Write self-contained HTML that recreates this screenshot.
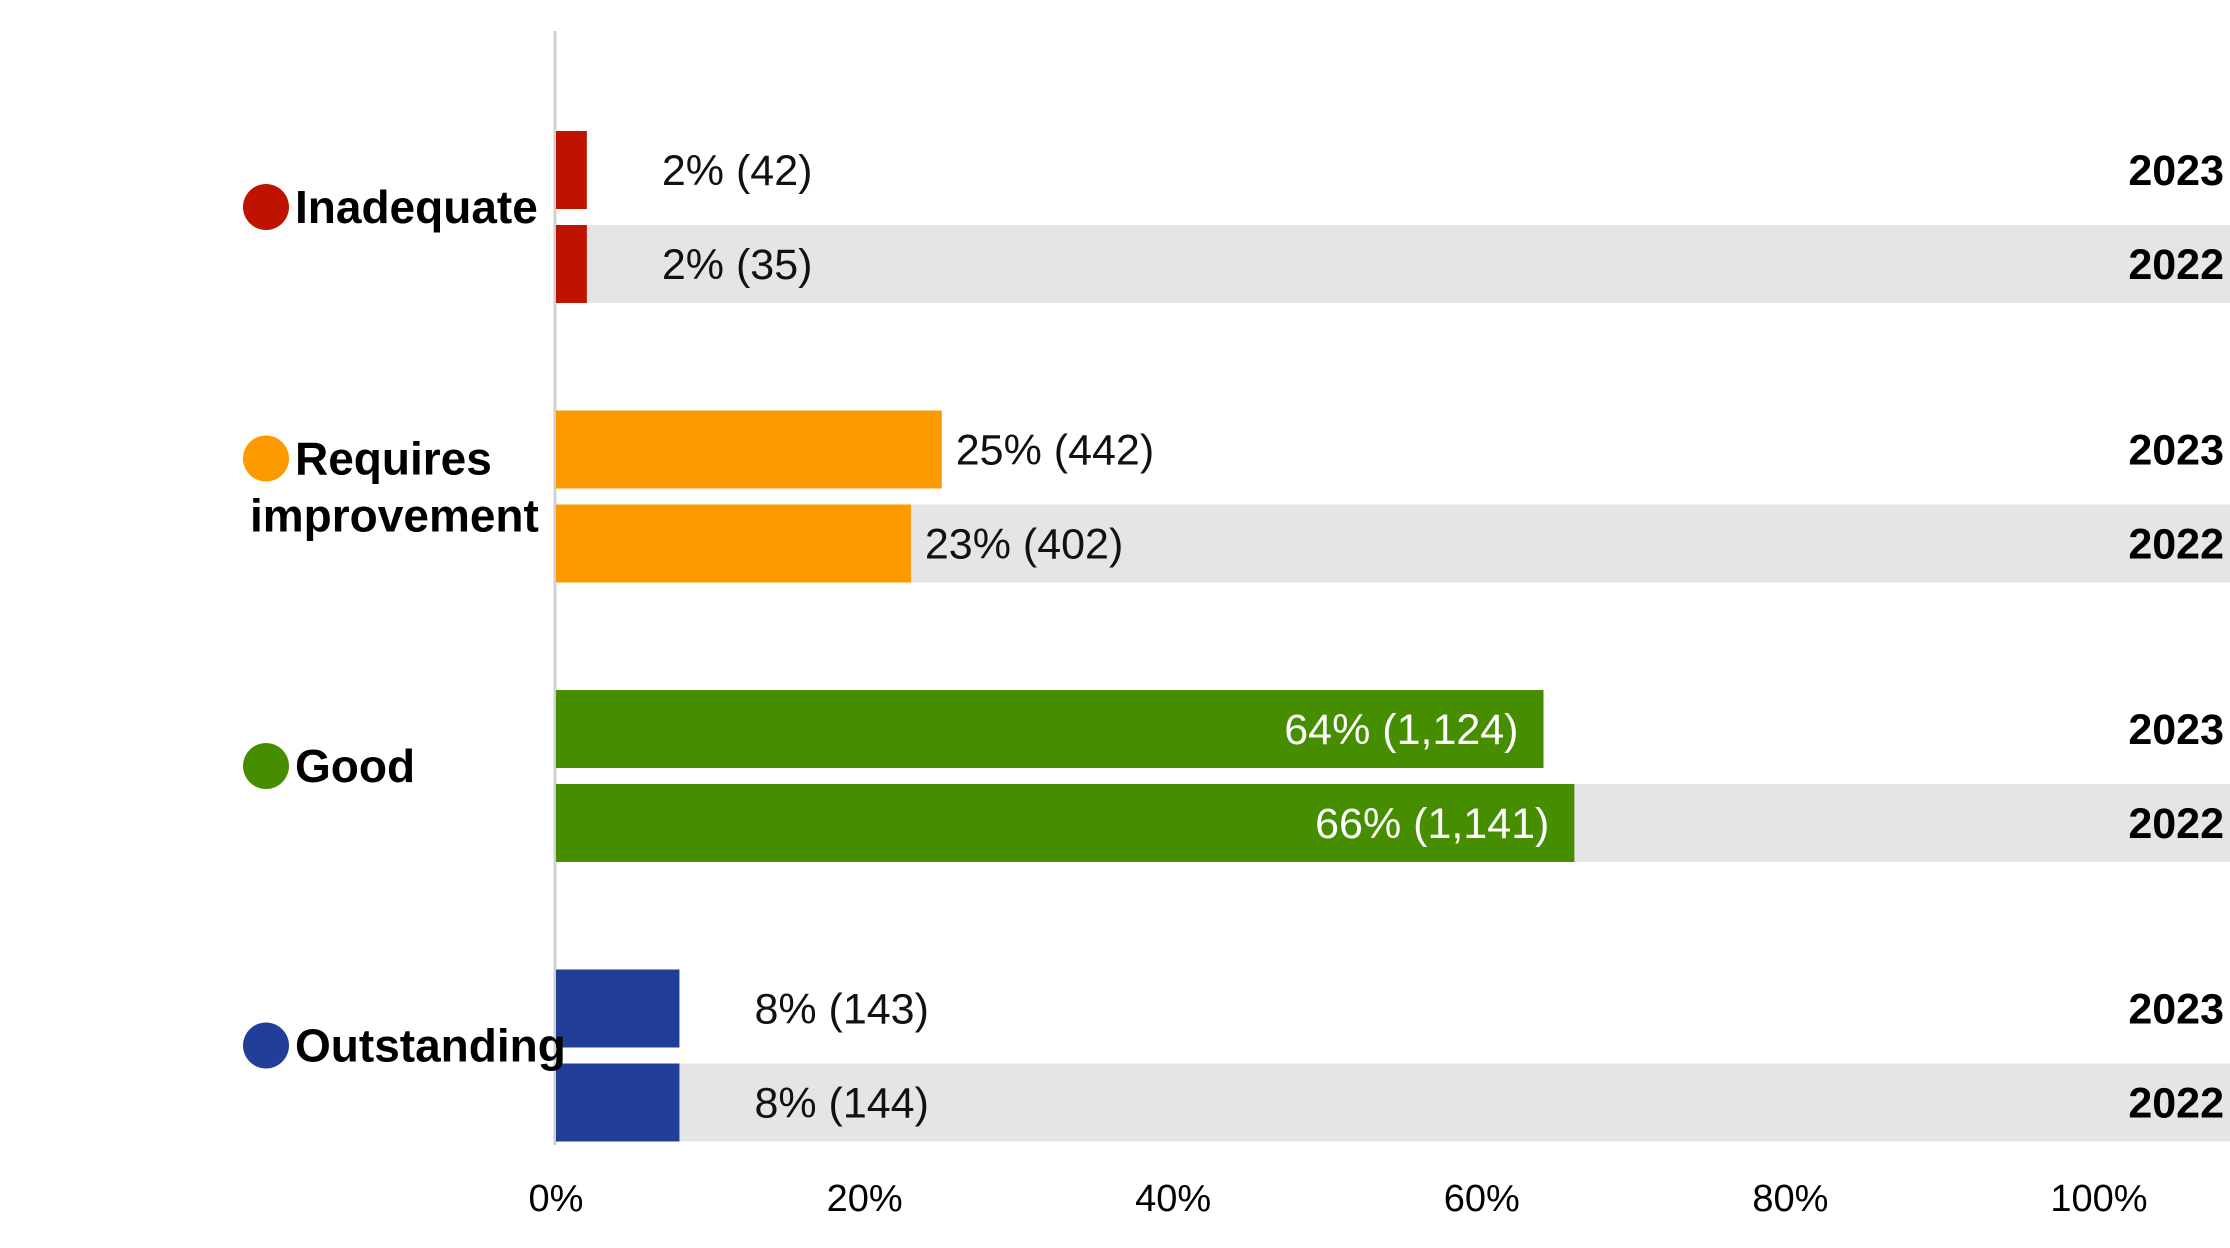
<!DOCTYPE html>
<html><head><meta charset="utf-8"><style>
html,body{margin:0;padding:0;background:#fff;}
svg{display:block;font-family:"Liberation Sans Narrow","Liberation Sans",sans-serif;}
</style></head><body>
<svg id="chart" width="2230" height="1248" viewBox="0 0 2230 1248" xmlns="http://www.w3.org/2000/svg"></svg>
<script>
const categories = ["Inadequate", "Requires improvement", "Good", "Outstanding"];
const categoryLines = [["Inadequate"], ["Requires", "improvement"], ["Good"], ["Outstanding"]];
const colors = ["#bf1300", "#fd9a00", "#468e00", "#213f99"];
const years = ["2023", "2022"];
const values2023 = [2, 25, 64, 8];
const values2022 = [2, 23, 66, 8];
const counts2023 = ["42", "442", "1,124", "143"];
const counts2022 = ["35", "402", "1,141", "144"];
const ticks = [0, 20, 40, 60, 80, 100];

const NS = "http://www.w3.org/2000/svg";
const svg = document.getElementById("chart");
const X0 = 556, X100 = 2099;
const x = v => X0 + (X100 - X0) * v / 100;
const groupTop0 = 131, groupStep = 279.5, barH = 78, rowGap = 94;

function mk(tag, attrs, parent) {
  const el = document.createElementNS(NS, tag);
  for (const k in attrs) el.setAttribute(k, attrs[k]);
  (parent || svg).appendChild(el);
  return el;
}

// axis line
const axis = mk("line", {x1: X0 - 1, x2: X0 - 1, y1: 31, y2: 1145, stroke: "#d0d0d0", "stroke-width": 3});



categories.forEach((cat, i) => {
  const gTop = groupTop0 + i * groupStep;
  const series = [values2023, values2022];
  const counts = [counts2023, counts2022];
  series.forEach((vals, r) => {
    const y = gTop + r * rowGap;
    const v = vals[i];
    if (r === 1) {
      const band = mk("rect", {x: X0, y: y, width: 2230 - X0, height: barH, fill: "#e5e5e5"});
      
      
    }
    const bar = mk("rect", {x: X0, y: y, width: x(v) - X0, height: barH, fill: colors[i]});
    
    
    const label = v + "% (" + counts[r][i] + ")";
    let t;
    if (v >= 50) {
      t = mk("text", {x: x(v) - 25, y: y + barH / 2 + 15, "text-anchor": "end", "font-size": 43, fill: "#fff"});
    } else if (v < 10) {
      t = mk("text", {x: x(v) + 75, y: y + barH / 2 + 15, "font-size": 43, fill: "#111"});
    } else {
      t = mk("text", {x: x(v) + 14, y: y + barH / 2 + 15, "font-size": 43, fill: "#111"});
    }
    t.textContent = label;
    
    
    const yr = mk("text", {x: 2224, y: y + barH / 2 + 15, "text-anchor": "end", "font-size": 43, "font-weight": "bold", fill: "#000"});
    yr.textContent = years[r];
    
    
  });
  // category label
  const lines = categoryLines[i];
  const cy = gTop + 76;
  const firstY = lines.length > 1 ? cy - 28 : cy;
  const dot = mk("circle", {cx: 266, cy: firstY, r: 23, fill: colors[i]});
  
  
  lines.forEach((ln, k) => {
    const tx = k === 0 ? 295 : 250;
    const t = mk("text", {x: tx, y: firstY + 16 + k * 57, "font-size": 46, "font-weight": "bold", fill: "#000"});
    t.textContent = ln;
    
    
  });
});

ticks.forEach(tk => {
  const t = mk("text", {x: x(tk), y: 1211, "text-anchor": "middle", "font-size": 38, fill: "#000"});
  t.textContent = tk + "%";
  
  
});
</script>
</body></html>
